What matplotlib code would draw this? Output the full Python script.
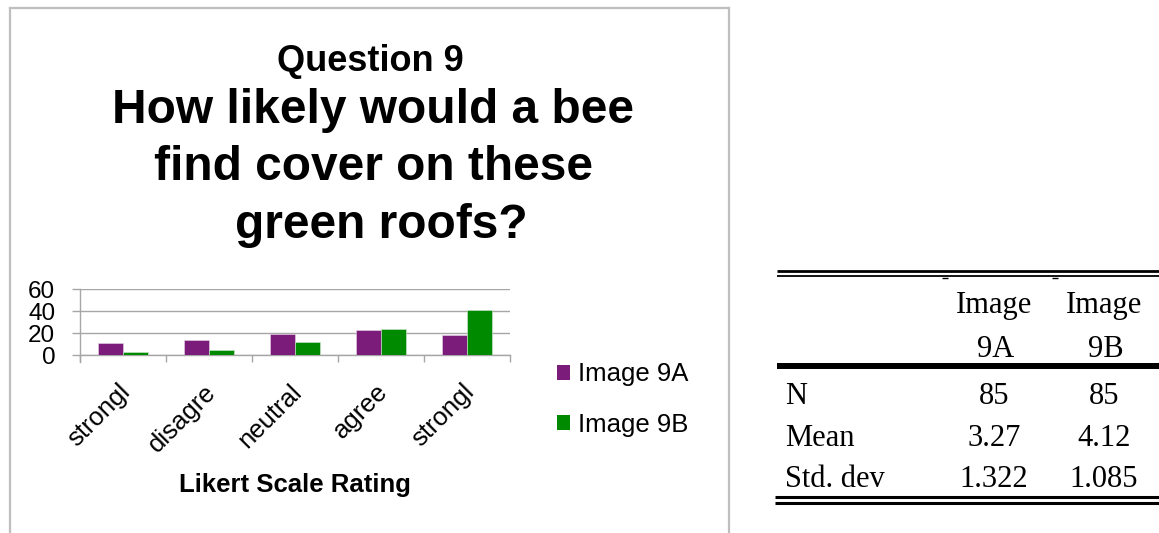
import matplotlib
matplotlib.use("Agg")
import matplotlib.pyplot as plt
from matplotlib.lines import Line2D
from matplotlib.patches import Patch
from matplotlib.transforms import ScaledTranslation

# ---- data ----
categories = ["strongl", "disagre", "neutral", "agree", "strongl"]
series_names = ["Image 9A", "Image 9B"]
image_9a = [11, 14, 19, 23, 18]
image_9b = [3, 5, 12, 24, 41]
y_ticks = [0, 20, 40, 60]

title_small = "Question 9"
title_lines = ["How likely would a bee", "find cover on these", "green roofs?"]
x_label = "Likert Scale Rating"

table_cols = [["Image", "9A"], ["Image", "9B"]]
table_rows = ["N", "Mean", "Std. dev"]
table_9a = ["85", "3.27", "1.322"]
table_9b = ["85", "4.12", "1.085"]

purple = "#7B1C7A"
green = "#008A00"
gray = "#A6A6A6"

W, H = 1159, 533
fig = plt.figure(figsize=(W / 100, H / 100), dpi=100)
fig.patch.set_facecolor("white")


def fx(x):
    return x / W


def fy(y):
    return 1 - y / H


sans = ["Liberation Sans", "DejaVu Sans"]
serif = ["Liberation Serif", "DejaVu Serif"]

# ---- chart frame ----
frame_c = "#BFBFBF"
fig.add_artist(Line2D([fx(9.5), fx(9.5)], [fy(8), fy(533)], color=frame_c, lw=1.6))
fig.add_artist(Line2D([fx(9.5), fx(729)], [fy(8), fy(8)], color=frame_c, lw=1.6))
fig.add_artist(Line2D([fx(729), fx(729)], [fy(8), fy(533)], color=frame_c, lw=1.6))

# ---- title ----
fig.text(fx(370), fy(71), title_small, ha="center", va="baseline",
         fontsize=26, fontweight="bold", family=sans)
title_x = [373, 373, 381]
title_y = [123, 180, 238]
for t, x, y in zip(title_lines, title_x, title_y):
    fig.text(fx(x), fy(y), t, ha="center", va="baseline",
             fontsize=34.5, fontweight="bold", family=sans)

# ---- axes ----
ax_l, ax_r, ax_t, ax_b = 80, 510, 289, 355
ax = fig.add_axes([fx(ax_l), fy(ax_b), (ax_r - ax_l) / W, (ax_b - ax_t) / H])
n = len(categories)
centers = [i + 0.5 for i in range(n)]
bw = 0.29
ax.bar([c - bw / 2 for c in centers], image_9a, width=bw, color=purple,
       edgecolor="#E8D8E8", linewidth=0.4, zorder=3)
ax.bar([c + bw / 2 for c in centers], image_9b, width=bw, color=green,
       edgecolor="#D8E8D8", linewidth=0.4, zorder=3)
ax.set_xlim(0, n)
ax.set_ylim(0, 60)
ax.set_yticks(y_ticks)
ax.set_yticklabels([str(v) for v in y_ticks], fontsize=17.5, family=sans)
ax.yaxis.grid(True, color=gray, lw=1.0, zorder=0)
ax.set_axisbelow(True)
for s in ["top", "right"]:
    ax.spines[s].set_visible(False)
for s in ["left", "bottom"]:
    ax.spines[s].set_color(gray)
    ax.spines[s].set_linewidth(1.0)
ax.tick_params(axis="y", length=5.8, width=1.0, color=gray, pad=12)
ax.set_xticks(list(range(n + 1)))
ax.set_xticklabels([""] * (n + 1))
ax.tick_params(axis="x", which="major", length=5, width=1.0, color=gray)
ax.set_xticks(centers, minor=True)
ax.set_xticklabels(categories, minor=True, rotation=45, ha="right", va="center",
                   rotation_mode="anchor", fontsize=18.5, family=sans)
ax.tick_params(axis="x", which="minor", length=0, pad=24)
ax.spines["left"].set_bounds(0, 60)
for lbl in ax.get_xticklabels(minor=True):
    lbl.set_transform(lbl.get_transform() + ScaledTranslation(0.03, 0, fig.dpi_scale_trans))

# left spine extends a bit below the zero line (like the tick marks)
fig.add_artist(Line2D([fx(ax_l), fx(ax_l)], [fy(ax_b), fy(362)], color=gray, lw=1.0))

fig.text(fx(295), fy(492), x_label, ha="center", va="baseline",
         fontsize=18.5, fontweight="bold", family=sans)

# ---- legend ----
handles = [Patch(facecolor=purple, edgecolor="none"), Patch(facecolor=green, edgecolor="none")]
fig.legend(handles, series_names, loc="center left", bbox_to_anchor=(fx(557), fy(399.5)),
           frameon=False, prop={"family": sans, "size": 18.5}, handlelength=0.52,
           handleheight=0.52, handletextpad=0.3, labelspacing=1.02, borderpad=0,
           borderaxespad=0)

# ---- statistics table ----
def hline(x0, x1, y, lw):
    fig.add_artist(Line2D([fx(x0), fx(x1)], [fy(y), fy(y)], color="black", lw=lw,
                          solid_capstyle="butt"))

hline(777, 1159, 271, 2.0)
hline(777, 1159, 275.5, 1.3)
hline(942, 948, 277.5, 1.0)
hline(1052, 1058, 277.5, 1.0)
hline(777, 1159, 366, 4.3)
hline(775, 1159, 497, 2.2)
hline(775, 1159, 502.5, 2.2)

col_x = [994, 1104]
for cx, (l1, l2) in zip(col_x, table_cols):
    fig.text(fx(cx), fy(313), l1, ha="center", va="baseline", fontsize=22, family=serif)
    fig.text(fx(cx + 2), fy(357), l2, ha="center", va="baseline", fontsize=22, family=serif)

row_y = [404, 446, 487]
for r, a, b, y in zip(table_rows, table_9a, table_9b, row_y):
    fig.text(fx(785), fy(y), r, ha="left", va="baseline", fontsize=22, family=serif)
    fig.text(fx(col_x[0]), fy(y), a, ha="center", va="baseline", fontsize=22, family=serif)
    fig.text(fx(col_x[1]), fy(y), b, ha="center", va="baseline", fontsize=22, family=serif)

fig.savefig("out.png", dpi=100)
